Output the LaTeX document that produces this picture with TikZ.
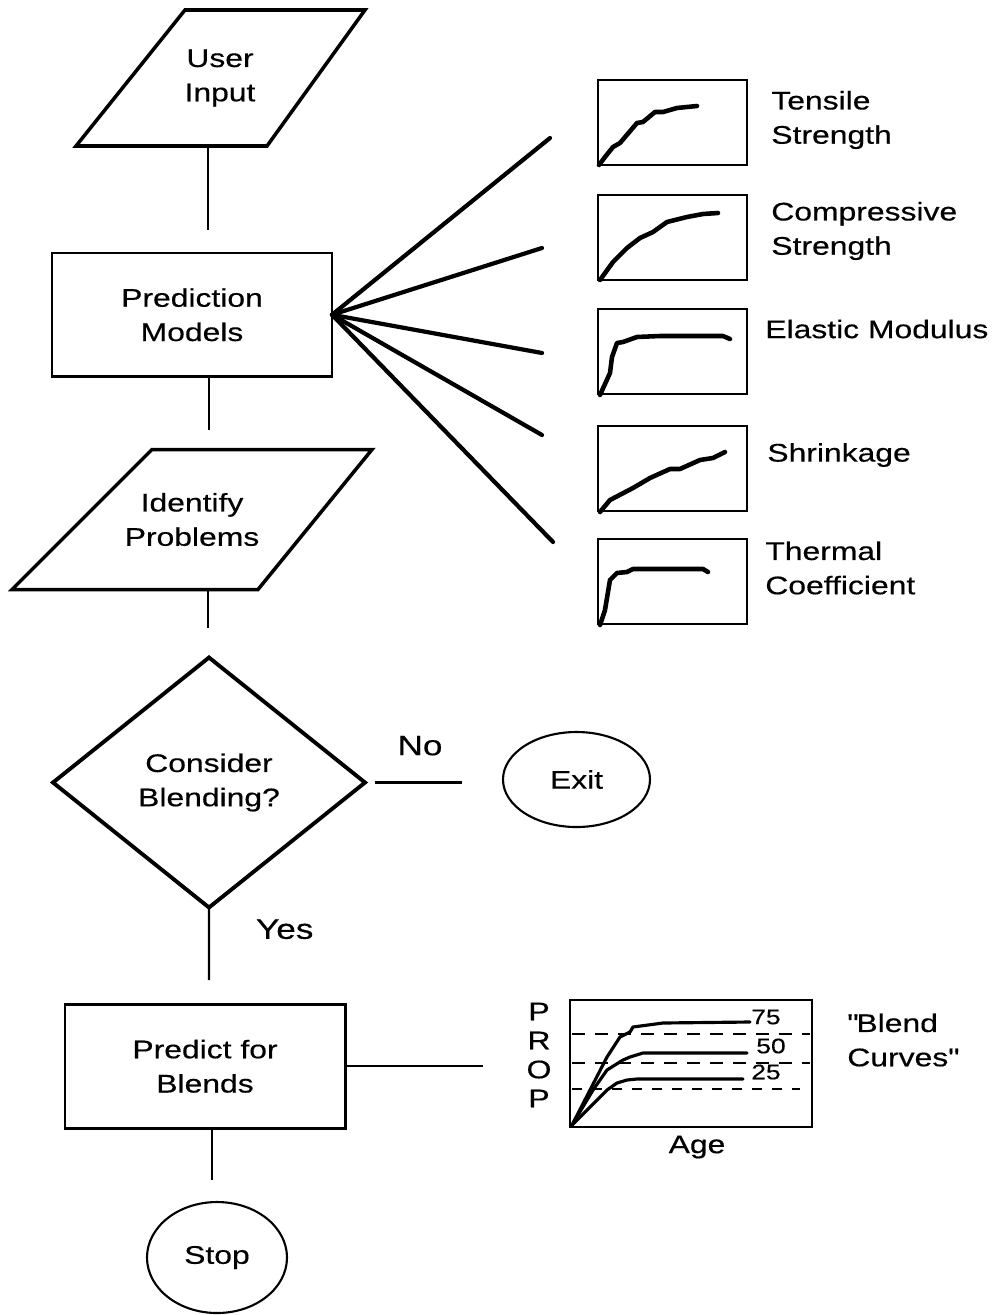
\documentclass[tikz,border=0pt]{standalone}
\usepackage{fontspec}
\setmainfont[FakeStretch=1.25, FakeBold=0.4]{Liberation Sans}
\usetikzlibrary{positioning,shapes.geometric}

\tikzset{
  box/.style={draw, line width=1.7pt, rectangle, minimum width=56mm, minimum height=24.7mm, align=center, inner sep=0pt, outer sep=0pt},
  io/.style={rectangle, align=center, inner sep=0pt, outer sep=0pt},
  iobox/.style={line width=2pt, line join=miter},
  choice/.style={draw, line width=2.2pt, diamond, align=center, inner sep=0pt, outer sep=0pt},
  term/.style={draw, line width=1.2pt, ellipse, inner sep=0pt, outer sep=0pt},
  link/.style={line width=1.2pt},
  fan/.style={line width=2.4pt, line cap=round},
  plotbox/.style={draw, line width=1.6pt, minimum width=29.8mm, minimum height=17mm, inner sep=0pt, outer sep=0pt},
  crv/.style={line width=2.6pt, line cap=round, line join=round},
  bcrv/.style={line width=1.8pt, line cap=round, line join=round},
  lbl/.style={anchor=west, align=left, inner sep=0pt},
  yn/.style={font=\fontsize{16}{18}\selectfont, inner sep=0pt}
}

\begin{document}
\begin{tikzpicture}[x=0.2mm, y=-0.2mm, font=\fontsize{14.5}{19.5}\selectfont]
    \useasboundingbox (0,0) rectangle (993,1315);

    \node[io, minimum width=37mm, minimum height=27.2mm] (ui) at (220,78) {User\\Input};
    \node[box, below=21.4mm of ui, xshift=-5.6mm] (pm) {Prediction\\Models};
    \node[io, below=14.6mm of pm, minimum width=44mm, minimum height=28mm] (ip) {Identify\\Problems};
    \node[choice, below=13.6mm of ip, xshift=3.4mm, minimum width=62.4mm, minimum height=50mm] (cb) {Consider\\Blending?};
    \node[term, right=27.6mm of cb, yshift=0.6mm, minimum width=29.4mm, minimum height=19mm] (ex) {Exit};
    \node[box, below=19.4mm of cb, xshift=-0.8mm] (pb) {Predict for\\Blends};
    \node[term, below=14.8mm of pb, xshift=2.4mm, minimum width=28mm, minimum height=22.2mm] (st) {Stop};

    \draw[iobox] ([xshift=-10.3mm]ui.south west) -- ([xshift=-9.1mm]ui.south east) -- ([xshift=10.5mm]ui.north east) -- ([xshift=11.5mm]ui.north west) -- cycle;
    \draw[iobox] ([xshift=-14mm]ip.south west) -- ([xshift=-8.8mm]ip.south east) -- ([xshift=14mm]ip.north east) -- ([xshift=14mm]ip.north west) -- cycle;

    \coordinate (j1) at (208,230);
    \coordinate (j2) at (209,430);
    \coordinate (j3) at (208,628);
    \coordinate (j4) at (209,980);
    \coordinate (j5) at (212,1180);
    \draw[link] (ui.south -| j1) -- (j1);
    \draw[link] (pm.south -| j2) -- (j2);
    \draw[link] (ip.south -| j3) -- (j3);
    \draw[link] (cb.south) -- node[pos=0.3, right=9.2mm, yn] {Yes} (j4);
    \draw[link] (pb.south -| j5) -- (j5);
    \draw[link, shorten <=2mm, shorten >=8.2mm] (cb.east) -- node[above=5.2mm, xshift=-2.8mm, yn] {No} (cb.east -| ex.west);

    \coordinate (f1) at (550,138);
    \coordinate (f2) at (542,248);
    \coordinate (f3) at (542,353);
    \coordinate (f4) at (542,435);
    \coordinate (f5) at (553,542);
    \foreach \i in {1,...,5}
        \draw[fan] (pm.east) -- (f\i);

    \node[plotbox] (g1) at (672.5,122.5) {};
    \node[plotbox, below=6mm of g1] (g2) {};
    \node[plotbox, below=5.8mm of g2] (g3) {};
    \node[plotbox, below=6.4mm of g3] (g4) {};
    \node[plotbox, below=5.6mm of g4] (g5) {};
    \draw[crv] (599,165) -- (605,157) -- (613,147) -- (620,143) -- (637,123) -- (643,122) -- (655,112) -- (663,112) -- (677,108) -- (697,106);
    \draw[crv] (600,280) -- (613,262) -- (627,248) -- (640,238) -- (653,232) -- (667,222) -- (687,217) -- (703,214) -- (718,213);
    \draw[crv] (600,395) -- (610,373) -- (612,357) -- (617,343) -- (623,342) -- (637,337) -- (660,336) -- (723,336) -- (730,339);
    \draw[crv] (600,512) -- (610,500) -- (633,488) -- (650,478) -- (670,469) -- (680,469) -- (700,460) -- (713,458) -- (725,452);
    \draw[crv] (600,625) -- (605,610) -- (610,580) -- (617,573) -- (627,572) -- (633,569) -- (657,569) -- (703,569) -- (708,572);

    \node[lbl] (l1) at (771,120) {Tensile\\Strength};
    \node[lbl] (l2) at (771,231) {Compressive\\Strength};
    \node[lbl] (l3) at (765,329) {Elastic Modulus};
    \node[lbl] (l4) at (767,455) {Shrinkage};
    \node[lbl] (l5) at (765,568) {Thermal\\Coefficient};

    \node[draw, line width=1.6pt, minimum width=48.4mm, minimum height=25.4mm, inner sep=0pt, outer sep=0pt] (bc) at (691,1063.5) {};
    \draw[link, shorten >=17.4mm] (pb.east) -- (pb.east -| bc.west);
    \draw[line width=1.4pt, dash pattern=on 2.6mm off 2mm] (572,1034) -- (810,1034);
    \draw[line width=1.4pt, dash pattern=on 2.6mm off 2mm] (572,1063) -- (810,1063);
    \draw[line width=0.8pt, dash pattern=on 2mm off 2mm] (572,1089) -- (800,1089);
    \draw[bcrv] (572,1125) -- (590,1090) -- (607,1057) -- (620,1037) -- (630,1032) -- (633,1027) -- (663,1023) -- (750,1022);
    \draw[bcrv] (572,1125) -- (593,1090) -- (607,1070) -- (623,1060) -- (630,1057) -- (643,1053) -- (747,1053);
    \draw[bcrv] (572,1125) -- (597,1100) -- (607,1090) -- (617,1083) -- (627,1080) -- (637,1079) -- (743,1079);
    \node[font=\fontsize{12}{12}\selectfont, inner sep=0pt] (n75) at (766,1017) {75};
    \node[font=\fontsize{12}{12}\selectfont, inner sep=0pt] (n50) at (771,1046) {50};
    \node[font=\fontsize{12}{12}\selectfont, inner sep=0pt] (n25) at (766,1072) {25};
    \node[align=center, font=\fontsize{14.5}{16.5}\selectfont, inner sep=0pt] (prop) at (539,1055) {P\\R\\O\\P};
    \node[inner sep=0pt] (age) at (697,1147) {Age};
    \node[lbl] (bl) at (847,1040) {\textquotedbl Blend\\Curves\textquotedbl};
\end{tikzpicture}
\end{document}
